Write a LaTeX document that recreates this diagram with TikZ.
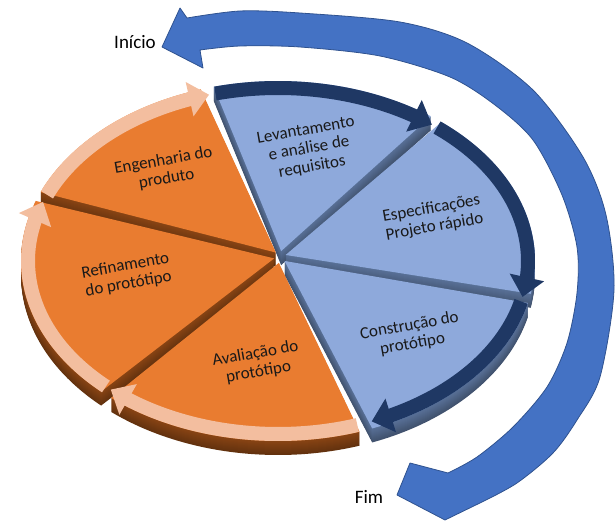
\documentclass[tikz,border=0pt]{standalone}
\usepackage{fontspec}
\setmainfont{Carlito}
\usetikzlibrary{calc,arrows.meta,bending}

\definecolor{blueface}{HTML}{8EA9DB}
\definecolor{blueside}{HTML}{5A7299}
\definecolor{navyband}{HTML}{1F3864}
\definecolor{orangeface}{HTML}{E97C30}
\definecolor{orangeside}{HTML}{8A4514}
\definecolor{peachband}{HTML}{F3BE9F}
\definecolor{bigblue}{HTML}{4472C4}
\definecolor{bigedge}{HTML}{2F528F}

\tikzset{
  lbl/.style={font=\fontsize{17}{18.5}\selectfont, align=center, rotate=10, text=black!90, inner sep=1pt},
  endlbl/.style={font=\fontsize{19}{22}\selectfont, text=black},
  navy/.style={line width=14pt, draw=navyband, -{Triangle[width=34pt,length=20pt]}},
  peach/.style={line width=14pt, draw=peachband, -{Triangle[width=34pt,length=20pt]}},
  bigarrow/.style={fill=bigblue, draw=bigedge, line width=0.8pt, line join=round},
}

% one slice: start angle, end angle, top colour, side colour
\newcommand{\pieslice}[4]{
  \pgfmathsetmacro{\midang}{(#1+#2)/2}
  \pgfmathsetmacro{\sa}{#1+1.5}
  \pgfmathsetmacro{\ea}{#2-1.5}
  \foreach \dy in {14,13,...,1}{
    \pgfmathtruncatemacro{\pc}{100-2*\dy}
    \fill[#4!\pc!black, shift={(0,-\dy)}] ($(280,266)+(\midang:6)$) -- ($(278,262)+({257*cos(\sa)},{180*sin(\sa)})$) arc[start angle=\sa, end angle=\ea, x radius=257, y radius=180] -- cycle;
  }
  \fill[#3] ($(280,266)+(\midang:6)$) -- ($(278,262)+({257*cos(\sa)},{180*sin(\sa)})$) arc[start angle=\sa, end angle=\ea, x radius=257, y radius=180] -- cycle;
}

% arrow band along the rim: style, from, to
\newcommand{\rimband}[3]{
  \draw[#1] ($(278,262)+({250*cos(#2)},{173*sin(#2)})$) arc[start angle=#2, end angle=#3, x radius=250, y radius=173];
}

\begin{document}
\begin{tikzpicture}[x=1pt,y=1pt]
\useasboundingbox (0,0) rectangle (616,523);

% big arrow from Fim round to Inicio
\draw[bigarrow] (187,505) -- plot[smooth] coordinates {(187,505) (240,512) (300,510) (400,501) (467,480) (533,433) (583,366) (606,308) (614,233) (600,146) (577,103) (553,70) (517,40) (482,21)}
  -- (445,3) -- (397,28) -- (410,60) -- (448,50)
  -- plot[smooth] coordinates {(448,50) (477,66) (513,96) (547,136) (567,180) (577,230) (577,276) (562,328) (533,383) (495,418) (450,446) (380,467) (300,476) (240,477) (200,473)}
  -- (203,455) -- (162,476) -- (180,515) -- cycle;

% slices, back to front
\pieslice{52}{106}{blueface}{blueside}
\pieslice{106}{159}{orangeface}{orangeside}
\pieslice{-12}{52}{blueface}{blueside}
\pieslice{159}{228}{orangeface}{orangeside}
\pieslice{-70}{-12}{blueface}{blueside}
\pieslice{228}{290}{orangeface}{orangeside}

% arrows on the rim
\rimband{navy}{104.5}{52}
\rimband{navy}{50.5}{-12}
\rimband{navy}{-13.5}{-68}
\rimband{peach}{288.5}{228}
\rimband{peach}{226.5}{160}
\rimband{peach}{157.5}{106}

\node[lbl] (lev) at (309,374) {Levantamento\\e análise de\\requisitos};
\node[lbl] (esp) at (433,305) {Especificações\\Projeto rápido};
\node[lbl] (con) at (411,188) {Construção do\\protótipo};
\node[lbl] (ava) at (257,160) {Avaliação do\\protótipo};
\node[lbl] (ref) at (127,248) {Refinamento\\do protótipo};
\node[lbl] (eng) at (165,353) {Engenharia do\\produto};

\node[endlbl] (inicio) at (135,481) {Início};
\node[endlbl] (fim) at (369,26) {Fim};
\end{tikzpicture}
\end{document}
